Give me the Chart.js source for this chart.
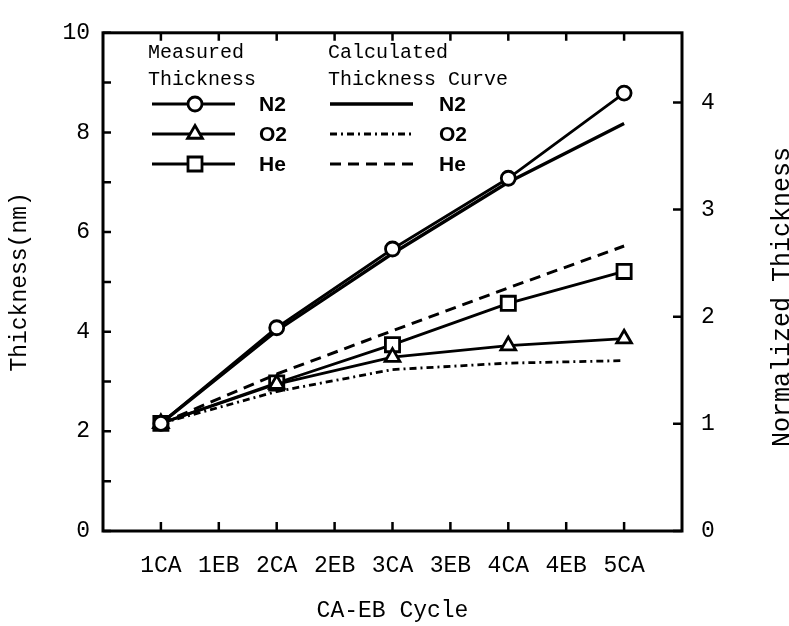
<!DOCTYPE html>
<html>
<head>
<meta charset="utf-8">
<script src="https://cdn.jsdelivr.net/npm/chart.js@4.4.1/dist/chart.umd.min.js"></script>
<style>
  body { margin: 0; background: #fff; }
</style>
</head>
<body>
<canvas id="thicknessChart" width="789" height="626"></canvas>
<script>
// x positions: 1CA=1 ... 5CA=9
const cycleLabels = ['1CA', '1EB', '2CA', '2EB', '3CA', '3EB', '4CA', '4EB', '5CA'];
const caPositions = [1, 3, 5, 7, 9];
const gases = ['N2', 'O2', 'He'];

// measured thickness (nm)
const n2Measured = [2.16, 4.08, 5.66, 7.08, 8.79];
const o2Measured = [2.16, 2.95, 3.49, 3.72, 3.86];
const heMeasured = [2.16, 2.97, 3.74, 4.57, 5.21];

// calculated thickness curve (nm)
const n2Calc = [2.16, 4.02, 5.57, 7.00, 8.18];
const o2Calc = [2.16, 2.80, 3.24, 3.37, 3.42];
const heCalc = [2.16, 3.15, 4.02, 4.88, 5.72];

const leftTicks = [0, 2, 4, 6, 8, 10];
const rightTicks = [0, 1, 2, 3, 4];
const rightMax = 4.65;

const monoFont = "'Liberation Mono', 'Courier New', monospace";
const sansFont = "'Liberation Sans', Arial, sans-serif";

function toPoints(ys) {
    return caPositions.map((x, i) => ({ x: x, y: ys[i] }));
}

function measuredSet(label, ys, style, radius) {
    return {
        label: label,
        data: toPoints(ys),
        borderColor: '#000',
        borderWidth: 2.8,
        pointStyle: style,
        pointRadius: radius,
        pointBorderWidth: 2.8,
        pointBackgroundColor: '#fff',
        pointBorderColor: '#000'
    };
}

function calcSet(label, ys, dash, width) {
    return {
        label: label,
        data: toPoints(ys),
        borderColor: '#000',
        borderWidth: width,
        borderDash: dash,
        pointRadius: 0
    };
}

const datasets = [
    measuredSet('N2 measured', n2Measured, 'circle', 7),
    measuredSet('O2 measured', o2Measured, 'triangle', 8.5),
    measuredSet('He measured', heMeasured, 'rect', 10),
    calcSet('N2 calculated', n2Calc, [], 3.3),
    calcSet('O2 calculated', o2Calc, [7, 4, 2, 4], 2.8),
    calcSet('He calculated', heCalc, [11, 7], 3)
];

function drawMarker(ctx, style, x, y) {
    ctx.beginPath();
    if (style === 'circle') {
        ctx.arc(x, y, 7, 0, Math.PI * 2);
    } else if (style === 'triangle') {
        ctx.moveTo(x, y - 8.5);
        ctx.lineTo(x + 7.4, y + 4.25);
        ctx.lineTo(x - 7.4, y + 4.25);
        ctx.closePath();
    } else {
        ctx.rect(x - 7, y - 7, 14, 14);
    }
    ctx.fillStyle = '#fff';
    ctx.fill();
    ctx.stroke();
}

const framePlugin = {
    id: 'frame',
    afterDraw(chart) {
        const ctx = chart.ctx;
        const a = chart.chartArea;
        const sx = chart.scales.x, sy = chart.scales.y, sr = chart.scales.y2;
        ctx.save();
        ctx.strokeStyle = '#000';
        ctx.lineWidth = 3;
        ctx.strokeRect(a.left, a.top, a.right - a.left, a.bottom - a.top);

        ctx.lineWidth = 2.5;
        ctx.beginPath();
        cycleLabels.forEach((_, i) => {
            const px = sx.getPixelForValue(i + 1);
            ctx.moveTo(px, a.bottom); ctx.lineTo(px, a.bottom - 9);
            ctx.moveTo(px, a.top); ctx.lineTo(px, a.top + 8);
        });
        for (let v = 0; v <= 10; v++) {
            const py = sy.getPixelForValue(v);
            ctx.moveTo(a.left, py); ctx.lineTo(a.left + 8, py);
        }
        rightTicks.forEach(v => {
            const py = sr.getPixelForValue(v);
            ctx.moveTo(a.right, py); ctx.lineTo(a.right - 9, py);
        });
        ctx.stroke();

        // right axis title, reading upward
        ctx.fillStyle = '#000';
        ctx.font = '25px ' + monoFont;
        ctx.textAlign = 'center';
        ctx.textBaseline = 'middle';
        ctx.translate(782, 297);
        ctx.rotate(-Math.PI / 2);
        ctx.fillText('Normalized Thickness', 0, 0);
        ctx.restore();

        // legend
        ctx.save();
        ctx.strokeStyle = '#000';
        ctx.textAlign = 'left';
        ctx.textBaseline = 'middle';
        ctx.fillStyle = '#000';
        ctx.font = '20px ' + monoFont;
        ctx.fillText('Measured', 148, 53);
        ctx.fillText('Thickness', 148, 80);
        ctx.fillText('Calculated', 328, 53);
        ctx.fillText('Thickness Curve', 328, 80);
        const rowY = [104, 134, 164];
        const markers = ['circle', 'triangle', 'rect'];
        gases.forEach((g, i) => {
            const y = rowY[i];
            const calc = chart.data.datasets[i + 3];
            ctx.lineWidth = 2.8;
            ctx.setLineDash([]);
            ctx.beginPath();
            ctx.moveTo(152, y); ctx.lineTo(235, y);
            ctx.stroke();
            drawMarker(ctx, markers[i], 195, y);
            ctx.lineWidth = calc.borderWidth;
            ctx.setLineDash(calc.borderDash);
            ctx.beginPath();
            ctx.moveTo(330, y); ctx.lineTo(413, y);
            ctx.stroke();
            ctx.setLineDash([]);
            ctx.fillStyle = '#000';
            ctx.font = 'bold 21px ' + sansFont;
            ctx.fillText(g, 259, y + 1);
            ctx.fillText(g, 439, y + 1);
        });
        ctx.restore();
    }
};

new Chart(document.getElementById('thicknessChart'), {
    type: 'line',
    data: { datasets: datasets },
    options: {
        responsive: false,
        animation: false,
        layout: { padding: { top: 25 } },
        plugins: { legend: { display: false }, tooltip: { enabled: false } },
        scales: {
            x: {
                type: 'linear',
                min: 0,
                max: 10,
                afterBuildTicks: s => { s.ticks = cycleLabels.map((_, i) => ({ value: i + 1 })); },
                afterFit: s => { s.height = 95; },
                grid: { display: false, drawTicks: false },
                border: { display: false },
                ticks: {
                    autoSkip: false,
                    maxRotation: 0,
                    padding: 21,
                    color: '#000',
                    font: { family: monoFont, size: 23 },
                    callback: v => cycleLabels[v - 1]
                },
                title: {
                    display: true,
                    text: 'CA-EB Cycle',
                    color: '#000',
                    font: { family: monoFont, size: 23 },
                    padding: { top: 0, bottom: 1 }
                }
            },
            y: {
                position: 'left',
                min: 0,
                max: 10,
                afterBuildTicks: s => { s.ticks = leftTicks.map(v => ({ value: v })); },
                afterFit: s => { s.width = 103; },
                grid: { display: false, drawTicks: false },
                border: { display: false },
                ticks: {
                    padding: 13,
                    color: '#000',
                    font: { family: monoFont, size: 23 }
                },
                title: {
                    display: true,
                    text: 'Thickness(nm)',
                    color: '#000',
                    font: { family: monoFont, size: 23 },
                    padding: { top: 6, bottom: 0 }
                }
            },
            y2: {
                position: 'right',
                min: 0,
                max: rightMax,
                afterBuildTicks: s => { s.ticks = rightTicks.map(v => ({ value: v })); },
                afterFit: s => { s.width = 107; },
                grid: { display: false, drawTicks: false },
                border: { display: false },
                ticks: {
                    padding: 19,
                    color: '#000',
                    font: { family: monoFont, size: 23 }
                }
            }
        }
    },
    plugins: [framePlugin]
});
</script>
</body>
</html>
